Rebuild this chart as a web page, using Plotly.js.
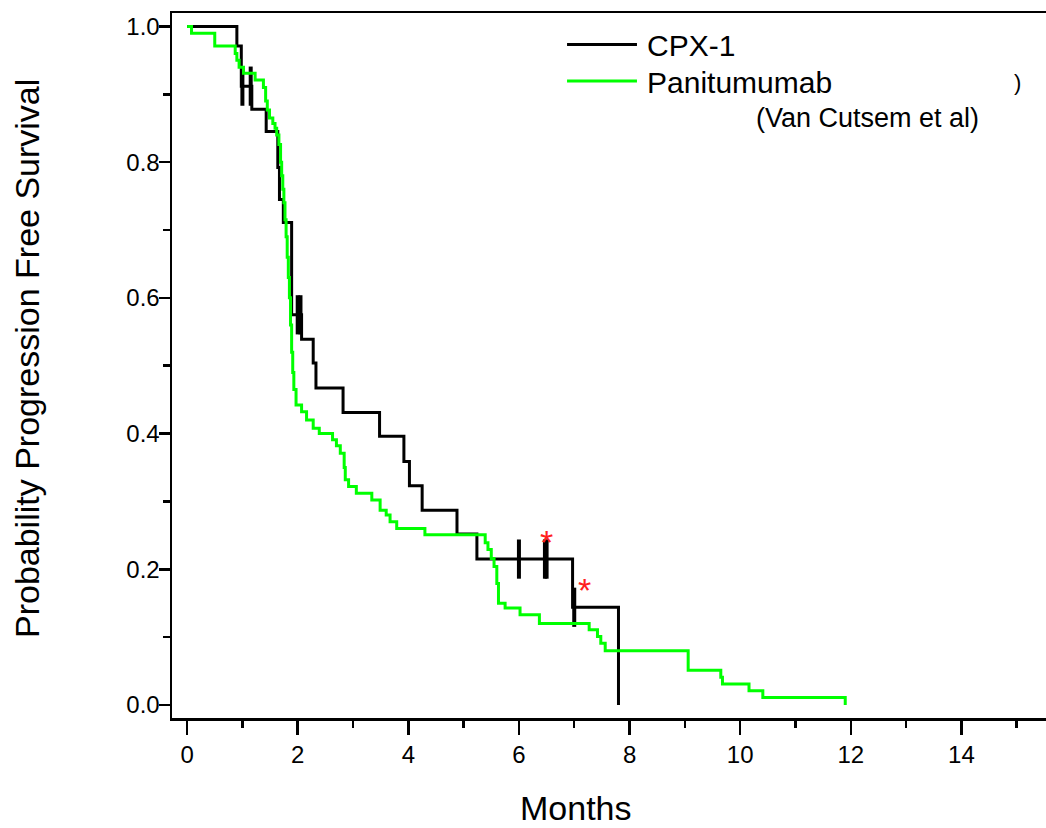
<!DOCTYPE html>
<html><head><meta charset="utf-8">
<script src="https://cdn.plot.ly/plotly-3.0.1.min.js"></script>
<style>html,body{margin:0;padding:0;background:#fff}#chart{width:1046px;height:828px}</style>
</head><body><div id="chart"></div>
<script>
// CPX-1 Kaplan-Meier steps (month, survival after step)
const cpxMonths = [0, 0.90, 0.98, 1.17, 1.43, 1.64, 1.67, 1.74, 1.89, 2.07, 2.28, 2.33, 2.82, 3.48, 3.92, 4.02, 4.25, 4.88, 5.24, 6.97, 7.80];
const cpxSurv   = [1.0, 0.971, 0.912, 0.878, 0.845, 0.792, 0.745, 0.711, 0.575, 0.539, 0.504, 0.467, 0.431, 0.396, 0.359, 0.323, 0.287, 0.252, 0.215, 0.144, 0.0];
// CPX-1 censor marks
const cpxCensorMonths = [1.00, 1.15, 2.00, 2.05, 6.00, 6.47, 6.50, 7.00];
const cpxCensorSurv   = [0.912, 0.912, 0.575, 0.575, 0.215, 0.215, 0.215, 0.144];
// Panitumumab (Van Cutsem et al) steps
const panMonths = [0, 0.08, 0.50, 0.87, 0.90, 0.94, 1.02, 1.23, 1.38, 1.42, 1.45, 1.49, 1.55, 1.59, 1.62, 1.66,
  1.69, 1.71, 1.73, 1.75, 1.77, 1.79, 1.81, 1.83, 1.85, 1.87, 1.89, 1.91, 1.93, 1.97, 2.07, 2.16, 2.28, 2.39,
  2.63, 2.70, 2.77, 2.84, 2.86, 2.92, 3.06, 3.34, 3.49, 3.60, 3.67, 3.79, 4.30, 5.39, 5.44, 5.50, 5.55, 5.60,
  5.63, 5.75, 6.02, 6.37, 7.27, 7.42, 7.48, 7.56, 9.06, 9.65, 9.68, 10.16, 10.41, 11.90];
const panSurv = [1.0, 0.99, 0.971, 0.96, 0.95, 0.94, 0.931, 0.921, 0.91, 0.89, 0.877, 0.865, 0.857, 0.85, 0.84, 0.826,
  0.80, 0.78, 0.76, 0.74, 0.715, 0.69, 0.66, 0.63, 0.60, 0.56, 0.52, 0.49, 0.465, 0.442, 0.432, 0.42, 0.408, 0.40,
  0.391, 0.382, 0.371, 0.35, 0.332, 0.322, 0.312, 0.302, 0.287, 0.280, 0.270, 0.260, 0.251, 0.239, 0.229, 0.216, 0.204, 0.179,
  0.150, 0.143, 0.133, 0.120, 0.111, 0.101, 0.091, 0.080, 0.051, 0.041, 0.031, 0.021, 0.011, 0.0];
// significance markers
const starMonths = [6.49, 7.18];
const starSurv = [0.249, 0.179];

const seriesNames = ['CPX-1', 'Panitumumab'];
const seriesColors = ['#000000', '#00ff00'];
const xTicks = [0, 2, 4, 6, 8, 10, 12, 14];
const yTicks = [0.0, 0.2, 0.4, 0.6, 0.8, 1.0];
const yTickText = ['0.0', '0.2', '0.4', '0.6', '0.8', '1.0'];

const FONT = 'Arial, "Liberation Sans", sans-serif';

const traces = [
  {x: cpxMonths, y: cpxSurv, name: seriesNames[0], mode: 'lines', showlegend: false,
   line: {shape: 'hv', color: seriesColors[0], width: 3}},
  {x: cpxCensorMonths, y: cpxCensorSurv, mode: 'markers', showlegend: false, hoverinfo: 'skip',
   marker: {symbol: 'line-ns', size: 28, color: '#000', line: {color: '#000', width: 4}}},
  {x: panMonths, y: panSurv, name: seriesNames[1], mode: 'lines', showlegend: false,
   line: {shape: 'hv', color: seriesColors[1], width: 3}}
];

// legend drawn as paper-positioned samples + labels
const legendLineY = [0.9553, 0.9035];
const legendTextY = [0.9532, 0.9021];
const shapes = seriesNames.map((n, i) => ({
  type: 'line', xref: 'paper', yref: 'paper', x0: 0.452, x1: 0.532, y0: legendLineY[i], y1: legendLineY[i],
  line: {color: seriesColors[i], width: 3}
}));

const annotations = seriesNames.map((n, i) => ({
  xref: 'paper', yref: 'paper', x: 0.541, y: legendTextY[i], text: n, showarrow: false,
  xanchor: 'left', yanchor: 'middle', font: {family: FONT, size: 30, color: '#000'}
}));
annotations.push(
  {xref: 'paper', yref: 'paper', x: 0.796, y: 0.851, text: '(Van Cutsem et al)', showarrow: false,
   xanchor: 'center', yanchor: 'middle', font: {family: FONT, size: 27, color: '#000'}},
  {xref: 'paper', yref: 'paper', x: 0.967, y: 0.902, text: ')', showarrow: false,
   xanchor: 'center', yanchor: 'middle', font: {family: FONT, size: 22, color: '#000'}},
  // axis titles
  {xref: 'paper', yref: 'paper', x: 0.462, y: -0.1277, text: 'Months', showarrow: false,
   xanchor: 'center', yanchor: 'middle', font: {family: FONT, size: 34, color: '#000'}},
  {xref: 'paper', yref: 'paper', x: -0.1659, y: 0.5092, text: 'Probability Progression Free Survival', showarrow: false,
   textangle: -90, xanchor: 'center', yanchor: 'middle', font: {family: FONT, size: 34, color: '#000'}}
);
starMonths.forEach((m, i) => annotations.push({
  x: m, y: starSurv[i] - 0.009, text: '*', showarrow: false, xanchor: 'center', yanchor: 'middle',
  font: {family: FONT, size: 34, color: '#ff2020'}
}));

const layout = {
  width: 1046, height: 828,
  margin: {l: 172, r: 0, t: 13, b: 110},
  paper_bgcolor: '#fff', plot_bgcolor: '#fff',
  font: {family: FONT, color: '#000'},
  showlegend: false,
  xaxis: {
    range: [-0.273, 15.53], showgrid: false, zeroline: false,
    showline: true, linecolor: '#000', linewidth: 2.5, mirror: true,
    tickmode: 'array', tickvals: xTicks, ticks: 'outside', ticklen: 14, tickwidth: 2.5, tickcolor: '#000',
    minor: {dtick: 1, tick0: 0, ticks: 'outside', ticklen: 7, tickwidth: 2.5, tickcolor: '#000'},
    tickfont: {family: FONT, size: 24, color: '#000'}
  },
  yaxis: {
    range: [-0.0192, 1.0198], showgrid: false, zeroline: false,
    showline: true, linecolor: '#000', linewidth: 2.5, mirror: false,
    tickmode: 'array', tickvals: yTicks, ticktext: yTickText, ticks: 'outside', ticklen: 11, tickwidth: 2.5, tickcolor: '#000',
    minor: {dtick: 0.1, tick0: 0, ticks: 'outside', ticklen: 7, tickwidth: 2.5, tickcolor: '#000'},
    tickfont: {family: FONT, size: 24, color: '#000'}, ticklabelstandoff: -6
  },
  shapes: shapes,
  annotations: annotations
};

Plotly.newPlot('chart', traces, layout, {displayModeBar: false, staticPlot: true});
</script>
</body></html>
